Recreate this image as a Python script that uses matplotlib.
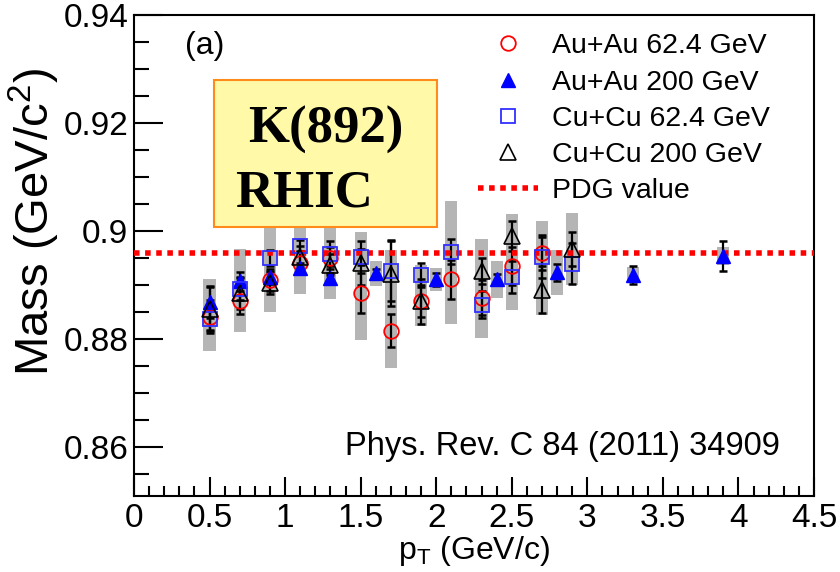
import matplotlib
matplotlib.use("Agg")
import matplotlib.pyplot as plt
from matplotlib.lines import Line2D
from matplotlib.patches import Rectangle
from matplotlib.ticker import MultipleLocator, FuncFormatter

plt.rcParams['font.family'] = ['Liberation Sans', 'DejaVu Sans']
plt.rcParams['mathtext.fontset'] = 'custom'
plt.rcParams['mathtext.rm'] = 'Liberation Sans'
plt.rcParams['mathtext.it'] = 'Liberation Sans'
plt.rcParams['mathtext.default'] = 'regular'

# Au+Au 62.4 GeV
auau62_pt = [0.5, 0.7, 0.9, 1.1, 1.3, 1.5, 1.7, 1.9, 2.1, 2.3, 2.5, 2.7]
auau62_mass = [0.8842, 0.8871, 0.8910, 0.8942, 0.8950, 0.8885, 0.8816, 0.8871, 0.8911, 0.8877, 0.8936, 0.8959]
auau62_stat = [0.0030, 0.0025, 0.0020, 0.0020, 0.0020, 0.0037, 0.0031, 0.0030, 0.0036, 0.0032, 0.0035, 0.0030]
auau62_sys = [0.0064, 0.0058, 0.0060, 0.0050, 0.0050, 0.0087, 0.0070, 0.0046, 0.0082, 0.0075, 0.0060, 0.0060]

# Au+Au 200 GeV
auau200_pt = [0.5, 0.7, 0.9, 1.1, 1.3, 1.6, 2.0, 2.4, 2.8, 3.3, 3.9]
auau200_mass = [0.8869, 0.8907, 0.8915, 0.8932, 0.8913, 0.8922, 0.8911, 0.8911, 0.8924, 0.8919, 0.8954]
auau200_stat = [0.0030, 0.0017, 0.0012, 0.0010, 0.0010, 0.0008, 0.0012, 0.0010, 0.0016, 0.0017, 0.0027]
auau200_sys = [0.0043, 0.0060, 0.0050, 0.0037, 0.0039, 0.0023, 0.0021, 0.0034, 0.0042, 0.0014, 0.0017]

# Cu+Cu 62.4 GeV
cucu62_pt = [0.5, 0.7, 0.9, 1.1, 1.3, 1.5, 1.7, 1.9, 2.1, 2.3, 2.5, 2.7, 2.9]
cucu62_mass = [0.8837, 0.8893, 0.8951, 0.8973, 0.8958, 0.8952, 0.8927, 0.8919, 0.8962, 0.8864, 0.8915, 0.8953, 0.8940]
cucu62_stat = [0.0020, 0.0020, 0.0015, 0.0010, 0.0023, 0.0015, 0.0057, 0.0023, 0.0023, 0.0025, 0.0030, 0.0040, 0.0038]
cucu62_sys = [0.0050, 0.0074, 0.0095, 0.0060, 0.0070, 0.0046, 0.0039, 0.0018, 0.0093, 0.0062, 0.0060, 0.0050, 0.0035]

# Cu+Cu 200 GeV
cucu200_pt = [0.5, 0.7, 0.9, 1.1, 1.3, 1.5, 1.7, 1.9, 2.3, 2.5, 2.7, 2.9]
cucu200_mass = [0.8856, 0.8886, 0.8904, 0.8953, 0.8938, 0.8941, 0.8921, 0.8870, 0.8927, 0.8991, 0.8892, 0.8967]
cucu200_stat = [0.0040, 0.0030, 0.0020, 0.0020, 0.0020, 0.0040, 0.0060, 0.0041, 0.0024, 0.0028, 0.0044, 0.0032]
cucu200_sys = [0.0050, 0.0050, 0.0053, 0.0070, 0.0060, 0.0057, 0.0045, 0.0045, 0.0058, 0.0040, 0.0048, 0.0066]

pdg_mass = 0.89594

series = [
    (auau62_pt, auau62_mass, auau62_stat, auau62_sys,
     dict(marker='o', mfc='none', mec='red', ms=10.5, mew=1.3), 'Au+Au 62.4 GeV'),
    (auau200_pt, auau200_mass, auau200_stat, auau200_sys,
     dict(marker='^', mfc='blue', mec='blue', ms=10, mew=1.0), 'Au+Au 200 GeV'),
    (cucu62_pt, cucu62_mass, cucu62_stat, cucu62_sys,
     dict(marker='s', mfc='none', mec='#3030ff', ms=10, mew=1.3), 'Cu+Cu 62.4 GeV'),
    (cucu200_pt, cucu200_mass, cucu200_stat, cucu200_sys,
     dict(marker='^', mfc='none', mec='black', ms=11, mew=1.2), 'Cu+Cu 200 GeV'),
]

fig = plt.figure(figsize=(8.4, 5.72), dpi=100)
ax = fig.add_axes([0.1595, 0.1329, 0.8095, 0.8409])

# systematic boxes
for pt, m, st, sy, style, lab in series:
    ax.bar(pt, [2 * s for s in sy], bottom=[v - s for v, s in zip(m, sy)],
           width=0.08, color='#b5b5b5', edgecolor='none', zorder=1)

# statistical errors
for pt, m, st, sy, style, lab in series:
    ax.errorbar(pt, m, yerr=st, fmt='none', ecolor='black', elinewidth=1.6,
                capsize=3, capthick=1.8, zorder=3)

handles = []
for pt, m, st, sy, style, lab in series:
    ax.plot(pt, m, linestyle='none', zorder=4, **style)
    handles.append(Line2D([], [], linestyle='none', **style))

ax.axhline(pdg_mass, color='red', linestyle=(0, (1, 1)), linewidth=4, zorder=3.5)
handles.append(Line2D([], [], color='red', linestyle=(0, (1, 1)), linewidth=4))
labels = [s[5] for s in series] + ['PDG value']

ax.set_xlim(0, 4.5)
ax.set_ylim(0.851, 0.94)
ax.xaxis.set_major_locator(MultipleLocator(0.5))
ax.xaxis.set_minor_locator(MultipleLocator(0.1))
ax.yaxis.set_major_locator(MultipleLocator(0.02))
ax.yaxis.set_minor_locator(MultipleLocator(0.005))
fmt = FuncFormatter(lambda v, p: '%g' % round(v, 3))
ax.xaxis.set_major_formatter(fmt)
ax.yaxis.set_major_formatter(fmt)
ax.tick_params(axis='both', which='both', direction='in', width=1.5,
               top=False, right=False, labelsize=24)
ax.tick_params(axis='x', which='major', length=14, pad=5)
ax.tick_params(axis='x', which='minor', length=7)
ax.tick_params(axis='y', which='major', length=21, pad=4)
ax.tick_params(axis='y', which='minor', length=11)
for sp in ax.spines.values():
    sp.set_linewidth(1.5)

ax.set_xlabel('p$_{T}$ (GeV/c)', fontsize=23, labelpad=0)
ax.set_ylabel('Mass (GeV/c$^{2}$)', fontsize=34)
ax.yaxis.set_label_coords(-0.106, 0.57)

leg = ax.legend(handles, labels, loc='upper left', bbox_to_anchor=(0.506, 0.962),
                frameon=False, fontsize=20.5, borderpad=0, borderaxespad=0,
                handlelength=2.1, handletextpad=0.5, labelspacing=0.36)

ax.text(0.075, 0.935, '(a)', transform=ax.transAxes, fontsize=23, va='center')
ax.text(0.95, 0.102, 'Phys. Rev. C 84 (2011) 34909', transform=ax.transAxes,
        fontsize=23.5, ha='right', va='center')

# label box
ax.add_patch(Rectangle((0.1176, 0.559), 0.328, 0.306, transform=ax.transAxes,
                       facecolor='#fff9a8', edgecolor='#ff8c1a', linewidth=1.5,
                       zorder=6))
ax.text(0.168, 0.734, 'K(892)', transform=ax.transAxes, fontsize=38,
        fontweight='bold', family='Liberation Serif', va='baseline', ha='left', zorder=7)
ax.text(0.149, 0.601, 'RHIC', transform=ax.transAxes, fontsize=38,
        fontweight='bold', family='Liberation Serif', va='baseline', ha='left', zorder=7)

fig.savefig('out.png', dpi=100)
